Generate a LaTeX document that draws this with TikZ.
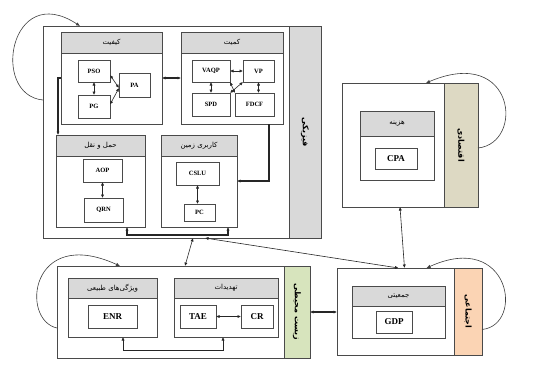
\documentclass[tikz,border=0pt]{standalone}
\usepackage{fontspec}
\setmainfont{Liberation Serif}
\newfontfamily\fa[Script=Arabic]{DejaVu Sans}
\TeXXeTstate=1
\usetikzlibrary{arrows.meta,calc}
\newcommand{\fat}[1]{{\fa\beginR #1\endR}}
\definecolor{hdrgray}{HTML}{D9D9D9}
\definecolor{econc}{HTML}{DDD9C3}
\definecolor{envc}{HTML}{D7E4BD}
\definecolor{socc}{HTML}{FBD4B4}
\definecolor{linec}{HTML}{4A4A4A}
\tikzset{
  outerbox/.style={draw=linec, line width=0.9pt, fill=white, anchor=north west, inner sep=0pt, outer sep=0pt},
  sidebox/.style={draw=linec, line width=0.9pt, anchor=north west, inner sep=0pt, outer sep=0pt},
  grp/.style={draw=linec, line width=0.8pt, fill=white, anchor=north west, inner sep=0pt, outer sep=0pt},
  hdr/.style={draw=linec, line width=0.8pt, fill=hdrgray, anchor=north west, inner sep=0pt, outer sep=0pt, font=\fontsize{7}{8}\selectfont},
  itembox/.style={draw=linec, line width=0.8pt, fill=white, anchor=north west, inner sep=0pt, outer sep=0pt, font=\bfseries\fontsize{6.5}{7}\selectfont},
  bigitem/.style={itembox, font=\bfseries\fontsize{9}{10}\selectfont},
  sidelbl/.style={rotate=-90, inner sep=0pt, font=\bfseries\fontsize{8}{9}\selectfont},
  conn/.style={draw=black!85, line width=0.6pt, {Latex[length=3.5pt,width=3.2pt]}-{Latex[length=3.5pt,width=3.2pt]}},
  thick conn/.style={conn, line width=1.2pt},
  loopc/.style={draw=black!75, line width=0.6pt, -{Latex[length=4pt,width=3.4pt]}}
}
\begin{document}
\begin{tikzpicture}[x=1pt,y=-1pt]
\fill[white] (0,0) rectangle (537,376);
\useasboundingbox (0,0) rectangle (537,376);

% ===== Physical =====
\node[outerbox, minimum width=278, minimum height=212] (phys) at (43,26) {};
\node[sidebox, fill=hdrgray, minimum width=32, minimum height=212] (physS) at (289,26) {};
\node[sidelbl] (physL) at (physS.center) {\fat{فیزیکی}};

\node[grp, minimum width=101, minimum height=92] (qual) at (61,32) {};
\node[hdr, minimum width=101, minimum height=21] (qualH) at (61,32) {\fat{کیفیت}};
\node[itembox, minimum width=32, minimum height=22] (PSO) at (78,60) {PSO};
\node[itembox, minimum width=32, minimum height=23] (PG) at (78,95) {PG};
\node[itembox, minimum width=31, minimum height=24] (PA) at (119,73) {PA};

\node[grp, minimum width=102, minimum height=92] (quant) at (181,32) {};
\node[hdr, minimum width=102, minimum height=21] (quantH) at (181,32) {\fat{کمیت}};
\node[itembox, minimum width=38, minimum height=22] (VAQP) at (192,60) {VAQP};
\node[itembox, minimum width=31, minimum height=22] (VP) at (243,60) {VP};
\node[itembox, minimum width=38, minimum height=23] (SPD) at (192,93) {SPD};
\node[itembox, minimum width=39, minimum height=23] (FDCF) at (235,93) {FDCF};

\node[grp, minimum width=89, minimum height=92] (trans) at (56,135) {};
\node[hdr, minimum width=89, minimum height=21] (transH) at (56,135) {\fat{حمل و نقل}};
\node[itembox, minimum width=39, minimum height=23] (AOP) at (83,159) {AOP};
\node[itembox, minimum width=39, minimum height=24] (QRN) at (84,198) {QRN};

\node[grp, minimum width=76, minimum height=92] (land) at (161,135) {};
\node[hdr, minimum width=76, minimum height=21] (landH) at (161,135) {\fat{کاربری زمین}};
\node[itembox, minimum width=43, minimum height=23] (CSLU) at (176,162) {CSLU};
\node[itembox, minimum width=31, minimum height=17] (PC) at (184,204) {PC};

% ===== Economic =====
\node[outerbox, minimum width=136, minimum height=124] (econ) at (342,83) {};
\node[sidebox, fill=econc, minimum width=34, minimum height=124] (econS) at (444,83) {};
\node[sidelbl] (econL) at (econS.center) {\fat{اقتصادی}};
\node[grp, minimum width=74, minimum height=69] (cost) at (360,111) {};
\node[hdr, minimum width=74, minimum height=25] (costH) at (360,111) {\fat{هزینه}};
\node[bigitem, minimum width=42, minimum height=21] (CPA) at (375,148) {CPA};

% ===== Social =====
\node[outerbox, minimum width=145, minimum height=87] (soc) at (337,268) {};
\node[sidebox, fill=socc, minimum width=28, minimum height=87] (socS) at (454,268) {};
\node[sidelbl] (socL) at (socS.center) {\fat{اجتماعی}};
\node[grp, minimum width=93, minimum height=52] (demo) at (352,286) {};
\node[hdr, minimum width=93, minimum height=20] (demoH) at (352,286) {\fat{جمعیتی}};
\node[bigitem, minimum width=36, minimum height=22] (GDP) at (376,311) {GDP};

% ===== Environmental =====
\node[outerbox, minimum width=253, minimum height=92] (env) at (57,266) {};
\node[sidebox, fill=envc, minimum width=26, minimum height=92] (envS) at (284,266) {};
\node[sidelbl] (envL) at (envS.center) {\fat{زیست محیطی}};
\node[grp, minimum width=89, minimum height=59] (nat) at (68,278) {};
\node[hdr, minimum width=89, minimum height=20] (natH) at (68,278) {\fat{ویژگی‌های طبیعی}};
\node[bigitem, minimum width=49, minimum height=23] (ENR) at (88,305) {ENR};
\node[grp, minimum width=104, minimum height=59] (thr) at (174,278) {};
\node[hdr, minimum width=104, minimum height=20] (thrH) at (174,278) {\fat{تهدیدات}};
\node[bigitem, minimum width=36, minimum height=23] (TAE) at (180,305) {TAE};
\node[bigitem, minimum width=32, minimum height=23] (CR) at (241,305) {CR};

% ===== inner connectors =====
\draw[conn] (PSO.south) -- (PSO.south |- PG.north);
\draw[conn] ([yshift=-4pt]PSO.east) -- ([yshift=-3pt]PA.west);
\draw[conn] ([yshift=2pt]PG.east) -- ([yshift=-3pt]PA.west);
\draw[conn] (VAQP.east) -- (VAQP.east -| VP.west);
\draw[conn] (VAQP.south) -- (VAQP.south |- SPD.north);
\draw[conn] (VP.south) -- (VP.south |- FDCF.north);
\draw[conn] (VP.south west) -- (SPD.north east);
\draw[conn] (VAQP.south east) -- (FDCF.north west);
\draw[conn] (AOP.south) -- (AOP.south |- QRN.north);
\draw[conn] (CSLU.south) -- (CSLU.south |- PC.north);
\draw[thick conn] (TAE.east) -- (TAE.east -| CR.west);

% ===== group connectors =====
\draw[thick conn] (qual.east) -- (qual.east -| quant.west);
\draw[thick conn, {Latex[length=3.5pt,width=3.2pt]}-] ([xshift=2pt]trans.north west) |- (qual.west);
\draw[thick conn, -{Latex[length=3.5pt,width=3.2pt]}] ([xshift=-14pt]quant.south east) |- (land.east);
\draw[thick conn] ([xshift=-18pt]trans.south east) -- ++(0,8) -| ([xshift=-9pt]land.south east);
\draw[conn] ([xshift=-34pt]nat.south east) -- ++(0,13) -| ([xshift=-55pt]thr.south east);

% ===== dimension connectors =====
\draw[conn] ([xshift=11pt]phys.south) -- ([xshift=1.5pt]env.north);
\draw[conn] ([xshift=23pt]phys.south) -- ([xshift=-11pt]soc.north);
\draw[conn] ([xshift=-10pt]econ.south) -- ([xshift=-5pt]soc.north);
\draw[thick conn] (envS.east) -- (envS.east -| soc.west);

% ===== self loops =====
\draw[loopc] ([yshift=32pt]phys.west) .. controls (-10,95) and (10,-20) .. ([xshift=-102pt]phys.north);
\draw[loopc] ([yshift=-3pt]econ.east) .. controls (525,143) and (515,45) .. ([xshift=16pt]econ.north);
\draw[loopc] ([yshift=-18pt]soc.east) .. controls (525,325) and (510,230) .. ([xshift=17pt]soc.north);
\draw[loopc] ([yshift=-16pt]env.west) .. controls (20,320) and (30,225) .. ([xshift=-63.5pt]env.north);
\end{tikzpicture}
\end{document}
